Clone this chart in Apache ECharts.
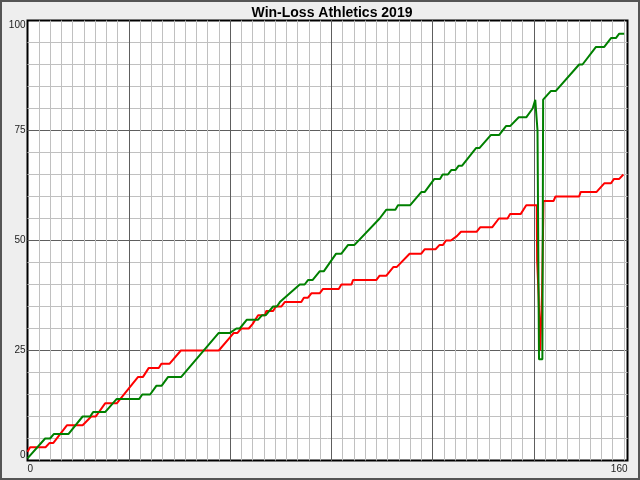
<!DOCTYPE html>
<html>
<head>
<meta charset="utf-8">
<script src="https://cdn.jsdelivr.net/npm/echarts@6/dist/echarts.min.js"></script>
<style>
  html, body { margin: 0; padding: 0; background: #eeeeee; }
  #chart { width: 640px; height: 480px; }
</style>
</head>
<body>
<div id="chart"></div>
<script>
// games played (x) and running totals (y)
var winX = [0, 4.7, 6, 7, 10.9, 14.7, 16.7, 17.5, 20.7, 23.8, 29.8, 30.6, 32.7, 34.4, 35.8, 37.5, 41, 51, 54, 55.7,
    56.6, 58.5, 61.5, 62.5, 63.5, 64.5, 65.5, 66.5, 67.3, 72.6, 73.9, 74.8, 76, 77.9, 79, 82.3, 83.7, 85.5, 87.2, 93.9,
    95.7, 98.1, 98.8, 102, 105, 105.9, 108.5, 110, 110.7, 112.1, 113, 114.1, 115, 115.9, 119.6, 120.5, 123.6, 125.8, 127.6, 128.7,
    131, 133, 134.7, 135.4, 135.9, 136, 136.3, 136.4, 137.3, 137.5, 137.8, 139.6, 140.9, 147.1, 148, 151.6, 153.8, 155.6, 156.9, 157.8,
    159.1];
var winY = [0.5, 5, 5, 6, 6, 10, 10, 11, 11, 14, 14, 15, 15, 17, 17, 19, 19, 29, 29, 30,
    30, 32, 32, 33, 33, 34, 35, 35, 36, 40, 40, 41, 41, 43, 43, 47, 47, 49, 49, 55,
    57, 57, 58, 58, 61, 61, 64, 64, 65, 65, 66, 66, 67, 67, 71, 71, 74, 74, 76, 76,
    78, 78, 80, 82, 82, 75, 75, 23, 23, 82, 82, 84, 84, 90, 90, 94, 94, 96, 96, 97,
    97];

var lossX = [0, 0.7, 4.8, 5.9, 6.9, 10.5, 14.7, 17, 18.2, 20.7, 23.8, 29.5, 30.8, 32.3, 35, 35.7, 37.9, 40.9, 51, 54,
    55, 56, 57, 59, 60, 60.5, 61.5, 63.3, 63.7, 65.5, 66.2, 67.7, 68.6, 73, 73.7, 74.8, 75.7, 77.9, 78.8, 83,
    83.7, 86.4, 86.8, 93, 93.9, 95.7, 97.6, 98.5, 101.9, 105, 105.9, 108.8, 109.9, 110.8, 111.6, 112.9, 114.5, 115.6, 119.8, 120.7,
    123.9, 125.7, 128, 128.7, 131.5, 133, 135.8, 135.9, 136.2, 136.3, 136.6, 136.7, 137.1, 137.2, 137.5, 137.6, 140.3, 140.8, 147.1, 147.5,
    151.7, 153.8, 155.6, 156.4, 157.8, 158.9];
var lossY = [2, 3, 3, 4, 4, 8, 8, 10, 10, 13, 13, 19, 19, 21, 21, 22, 22, 25, 25, 28,
    29, 29, 30, 30, 31, 31, 33, 33, 34, 34, 35, 35, 36, 36, 37, 37, 38, 38, 39, 39,
    40, 40, 41, 41, 42, 42, 44, 44, 47, 47, 48, 48, 49, 49, 50, 50, 51, 52, 52, 53,
    53, 55, 55, 56, 56, 58, 58, 45.5, 45.5, 37.5, 37.5, 25, 25, 37.5, 37.5, 59, 59, 60, 60, 61,
    61, 63, 63, 64, 64, 65];

var xLabels = [0, 160];

function pairs(xs, ys) {
    return xs.map(function (x, i) { return [x, ys[i]]; });
}

var font = "'Liberation Sans', Arial, sans-serif";
var majorColor = '#5e5e5e';
var minorColor = '#c0c0c0';

var chart = echarts.init(document.getElementById('chart'));

var option = {
    animation: false,
    backgroundColor: '#eeeeee',
    title: {
        text: 'Win-Loss Athletics 2019',
        left: 327,
        top: 1,
        textAlign: 'center',
        textStyle: { fontFamily: font, fontSize: 14, fontWeight: 'bold', color: '#000' }
    },
    graphic: [{
        type: 'rect',
        shape: { x: 0, y: 0, width: 640, height: 480 },
        style: { fill: 'none', stroke: '#555', lineWidth: 4 },
        silent: true
    }],
    grid: {
        left: 27.5, right: 12.5, top: 20.5, bottom: 19.5,
        show: true,
        backgroundColor: '#fff',
        borderColor: '#000',
        borderWidth: 2
    },
    xAxis: [{
        type: 'value', min: 0, max: 160, interval: 27,
        axisLine: { show: false },
        axisTick: { show: false },
        axisLabel: {
            interval: 0,
            margin: 4,
            fontFamily: font, fontSize: 10, color: '#222',
            alignMinLabel: 'left', alignMaxLabel: 'right',
            formatter: function (v) { return xLabels.indexOf(v) >= 0 ? String(v) : ''; }
        },
        splitLine: { show: true, showMinLine: false, showMaxLine: false, lineStyle: { color: majorColor, width: 1 } },
        z: 2
    }, {
        type: 'value', min: 0, max: 160, interval: 3,
        axisLine: { show: false },
        axisTick: { show: false },
        axisLabel: { show: false },
        splitLine: { show: true, showMinLine: false, showMaxLine: false, lineStyle: { color: minorColor, width: 1 } },
        z: 1
    }],
    yAxis: {
        type: 'value', min: 0, max: 100, interval: 25,
        axisLine: { show: false },
        axisTick: { show: false },
        minorTick: { show: false, splitNumber: 5 },
        axisLabel: {
            margin: 2,
            fontFamily: font, fontSize: 10, color: '#222',
            verticalAlignMinLabel: 'bottom', verticalAlignMaxLabel: 'top'
        },
        splitLine: { show: true, showMinLine: false, showMaxLine: false, lineStyle: { color: majorColor, width: 1 } },
        minorSplitLine: { show: true, lineStyle: { color: minorColor, width: 1 } }
    },
    series: [{
        name: 'Losses',
        type: 'line',
        xAxisIndex: 0,
        showSymbol: false,
        lineStyle: { color: '#ff0000', width: 2 },
        itemStyle: { color: '#ff0000' },
        data: pairs(lossX, lossY),
        z: 3
    }, {
        name: 'Wins',
        type: 'line',
        xAxisIndex: 0,
        showSymbol: false,
        lineStyle: { color: '#008000', width: 2 },
        itemStyle: { color: '#008000' },
        data: pairs(winX, winY),
        z: 4
    }]
};

chart.setOption(option);
</script>
</body>
</html>
